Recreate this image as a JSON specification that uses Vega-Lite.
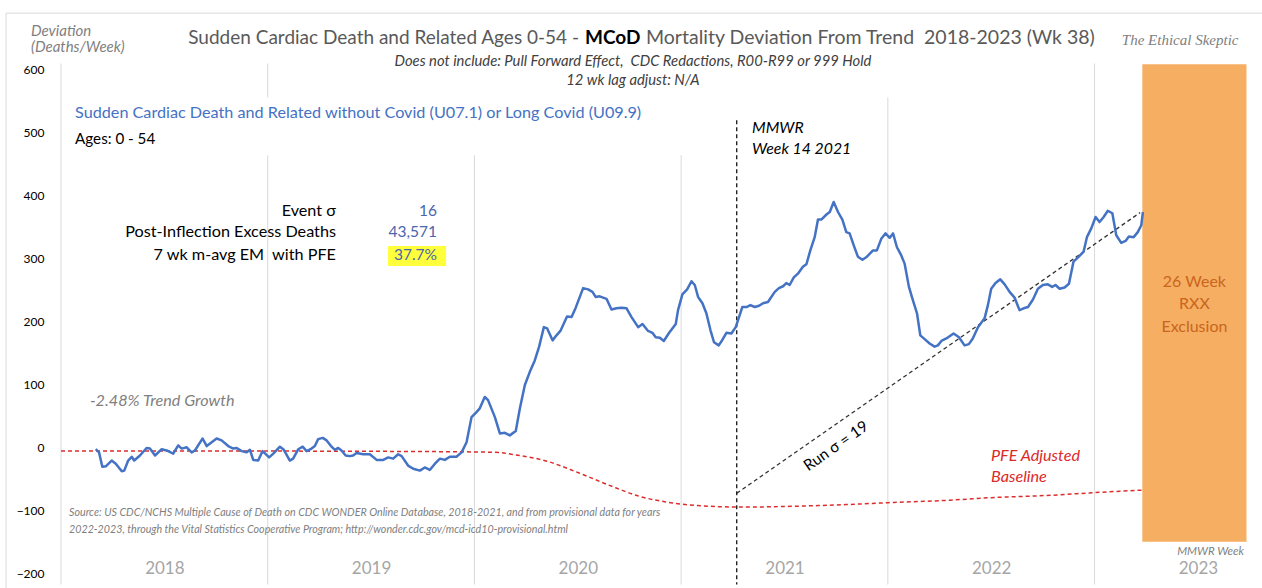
{
  "$schema": "https://vega.github.io/schema/vega-lite/v6.json",
  "width": 1201,
  "height": 521,
  "autosize": "none",
  "padding": {"left": 61, "top": 63.5, "right": 0, "bottom": 4},
  "background": "#ffffff",
  "config": {"view": {"stroke": null}, "font": "Lato"},
  "datasets": {
    "blue": [
      {"x":2018.168,"y":-3},{"x":2018.184,"y":-8},{"x":2018.200,"y":-31},{"x":2018.218,"y":-30},{"x":2018.245,"y":-21},{"x":2018.265,"y":-26},{"x":2018.294,"y":-38},{"x":2018.306,"y":-37},{"x":2018.325,"y":-21},{"x":2018.342,"y":-15},{"x":2018.354,"y":-21},{"x":2018.382,"y":-13},{"x":2018.414,"y":-1},{"x":2018.430,"y":-2},{"x":2018.455,"y":-13},{"x":2018.487,"y":-3},{"x":2018.511,"y":-5},{"x":2018.543,"y":-10},{"x":2018.567,"y":3},{"x":2018.584,"y":-2},{"x":2018.608,"y":0},{"x":2018.632,"y":-8},{"x":2018.648,"y":-5},{"x":2018.669,"y":6},{"x":2018.685,"y":14},{"x":2018.705,"y":2},{"x":2018.729,"y":8},{"x":2018.753,"y":14},{"x":2018.777,"y":11},{"x":2018.809,"y":2},{"x":2018.833,"y":-2},{"x":2018.850,"y":-1},{"x":2018.874,"y":-6},{"x":2018.898,"y":-8},{"x":2018.914,"y":-4},{"x":2018.930,"y":-20},{"x":2018.954,"y":-21},{"x":2018.975,"y":-6},
      {"x":2019.007,"y":-16},{"x":2019.027,"y":-10},{"x":2019.059,"y":1},{"x":2019.078,"y":-4},{"x":2019.107,"y":-21},{"x":2019.123,"y":-18},{"x":2019.148,"y":-3},{"x":2019.169,"y":1},{"x":2019.188,"y":-6},{"x":2019.212,"y":-2},{"x":2019.228,"y":2},{"x":2019.244,"y":13},{"x":2019.266,"y":15},{"x":2019.285,"y":11},{"x":2019.309,"y":1},{"x":2019.325,"y":-4},{"x":2019.341,"y":-1},{"x":2019.357,"y":-5},{"x":2019.377,"y":-13},{"x":2019.397,"y":-14},{"x":2019.413,"y":-13},{"x":2019.430,"y":-9},{"x":2019.462,"y":-11},{"x":2019.494,"y":-11},{"x":2019.527,"y":-20},{"x":2019.559,"y":-20},{"x":2019.583,"y":-16},{"x":2019.607,"y":-18},{"x":2019.631,"y":-11},{"x":2019.648,"y":-14},{"x":2019.679,"y":-29},{"x":2019.704,"y":-34},{"x":2019.736,"y":-37},{"x":2019.760,"y":-32},{"x":2019.784,"y":-36},{"x":2019.809,"y":-26},{"x":2019.833,"y":-18},{"x":2019.857,"y":-20},{"x":2019.881,"y":-15},{"x":2019.913,"y":-15},{"x":2019.938,"y":-8},{"x":2019.962,"y":8},{"x":2019.986,"y":48},
      {"x":2020.010,"y":56},{"x":2020.026,"y":62},{"x":2020.050,"y":80},{"x":2020.066,"y":75},{"x":2020.099,"y":48},{"x":2020.123,"y":22},{"x":2020.147,"y":23},{"x":2020.171,"y":19},{"x":2020.200,"y":26},{"x":2020.220,"y":62},{"x":2020.244,"y":99},{"x":2020.268,"y":120},{"x":2020.292,"y":138},{"x":2020.313,"y":160},{"x":2020.336,"y":191},{"x":2020.352,"y":189},{"x":2020.378,"y":170},{"x":2020.397,"y":178},{"x":2020.416,"y":185},{"x":2020.448,"y":208},{"x":2020.470,"y":207},{"x":2020.490,"y":222},{"x":2020.526,"y":253},{"x":2020.550,"y":251},{"x":2020.571,"y":247},{"x":2020.587,"y":239},{"x":2020.606,"y":240},{"x":2020.639,"y":236},{"x":2020.663,"y":219},{"x":2020.687,"y":221},{"x":2020.711,"y":222},{"x":2020.736,"y":221},{"x":2020.760,"y":207},{"x":2020.792,"y":191},{"x":2020.813,"y":196},{"x":2020.840,"y":185},{"x":2020.861,"y":182},{"x":2020.877,"y":175},{"x":2020.897,"y":174},{"x":2020.916,"y":169},{"x":2020.942,"y":182},{"x":2020.974,"y":196},{"x":2020.985,"y":218},
      {"x":2021.006,"y":243},{"x":2021.029,"y":251},{"x":2021.050,"y":264},{"x":2021.066,"y":258},{"x":2021.082,"y":239},{"x":2021.103,"y":229},{"x":2021.122,"y":213},{"x":2021.142,"y":186},{"x":2021.159,"y":167},{"x":2021.182,"y":162},{"x":2021.200,"y":171},{"x":2021.219,"y":182},{"x":2021.243,"y":181},{"x":2021.264,"y":191},{"x":2021.280,"y":207},{"x":2021.296,"y":223},{"x":2021.316,"y":223},{"x":2021.335,"y":226},{"x":2021.356,"y":223},{"x":2021.377,"y":225},{"x":2021.396,"y":229},{"x":2021.420,"y":231},{"x":2021.453,"y":247},{"x":2021.473,"y":253},{"x":2021.493,"y":256},{"x":2021.509,"y":261},{"x":2021.525,"y":258},{"x":2021.545,"y":270},{"x":2021.565,"y":276},{"x":2021.589,"y":287},{"x":2021.606,"y":291},{"x":2021.625,"y":313},{"x":2021.646,"y":334},{"x":2021.662,"y":362},{"x":2021.678,"y":362},{"x":2021.703,"y":370},{"x":2021.719,"y":374},{"x":2021.738,"y":390},{"x":2021.759,"y":374},{"x":2021.780,"y":362},{"x":2021.799,"y":342},{"x":2021.815,"y":340},{"x":2021.835,"y":321},{"x":2021.855,"y":303},{"x":2021.877,"y":298},{"x":2021.899,"y":303},{"x":2021.928,"y":313},{"x":2021.947,"y":313},{"x":2021.969,"y":332},{"x":2021.989,"y":340},
      {"x":2022.009,"y":333},{"x":2022.025,"y":340},{"x":2022.044,"y":318},{"x":2022.065,"y":305},{"x":2022.081,"y":292},{"x":2022.102,"y":255},{"x":2022.121,"y":234},{"x":2022.141,"y":213},{"x":2022.157,"y":178},{"x":2022.178,"y":172},{"x":2022.202,"y":165},{"x":2022.226,"y":160},{"x":2022.242,"y":162},{"x":2022.259,"y":169},{"x":2022.283,"y":173},{"x":2022.318,"y":181},{"x":2022.344,"y":175},{"x":2022.371,"y":162},{"x":2022.392,"y":164},{"x":2022.411,"y":173},{"x":2022.436,"y":191},{"x":2022.468,"y":205},{"x":2022.484,"y":226},{"x":2022.500,"y":252},{"x":2022.521,"y":261},{"x":2022.544,"y":267},{"x":2022.565,"y":259},{"x":2022.589,"y":247},{"x":2022.613,"y":238},{"x":2022.637,"y":218},{"x":2022.657,"y":221},{"x":2022.678,"y":223},{"x":2022.702,"y":235},{"x":2022.726,"y":252},{"x":2022.750,"y":258},{"x":2022.774,"y":259},{"x":2022.795,"y":255},{"x":2022.811,"y":258},{"x":2022.831,"y":252},{"x":2022.855,"y":254},{"x":2022.876,"y":260},{"x":2022.898,"y":295},{"x":2022.924,"y":303},{"x":2022.947,"y":311},{"x":2022.963,"y":334},{"x":2022.984,"y":348},
      {"x":2023.005,"y":366},{"x":2023.024,"y":358},{"x":2023.044,"y":366},{"x":2023.064,"y":376},{"x":2023.086,"y":372},{"x":2023.105,"y":337},{"x":2023.129,"y":325},{"x":2023.150,"y":328},{"x":2023.166,"y":335},{"x":2023.189,"y":334},{"x":2023.209,"y":342},{"x":2023.226,"y":353},{"x":2023.234,"y":374}
    ],
    "base": [
      {"x":2018.0,"y":-6},{"x":2019.0,"y":-6},{"x":2019.9,"y":-7},{"x":2020.1,"y":-8},{"x":2020.2,"y":-12},{"x":2020.35,"y":-22},{"x":2020.5,"y":-40},{"x":2020.65,"y":-60},{"x":2020.8,"y":-78},{"x":2020.95,"y":-88},{"x":2021.1,"y":-93},{"x":2021.3,"y":-95},{"x":2021.5,"y":-94},{"x":2021.8,"y":-91},{"x":2022.0,"y":-88},{"x":2022.3,"y":-84},{"x":2022.5,"y":-80},{"x":2022.8,"y":-76},{"x":2023.0,"y":-72},{"x":2023.23,"y":-68}
    ]
  },
  "encoding": {
    "x": {"field": "x", "type": "quantitative", "title": null,
      "scale": {"domain": [2018, 2023.81], "nice": false, "zero": false},
      "axis": {"values": [2018.5, 2019.5, 2020.5, 2021.5, 2022.5, 2023.5], "labelExpr": "floor(datum.value)", "domain": false, "ticks": false, "grid": false, "labelFontSize": 17, "labelColor": "#A6A6A6", "labelFont": "Lato", "offset": -24, "labelPadding": 0, "labelOverlap": false, "labelFlush": false}},
    "y": {"field": "y", "type": "quantitative", "title": null,
      "scale": {"domain": [-218, 610], "nice": false, "zero": false},
      "axis": {"values": [-200, -100, 0, 100, 200, 300, 400, 500, 600], "domain": false, "ticks": false, "grid": false, "labelPadding": 17, "labelFontSize": 12, "labelColor": "#000000", "labelFont": "Lato"}}
  },
  "layer": [
    {"data": {"values": [{"x": 2017.734, "x2": 2023.9, "y": 690}]}, "mark": {"type": "rule", "color": "#D9D9D9", "strokeWidth": 1}, "encoding": {"x2": {"field": "x2"}}},
    {"data": {"values": [{"x": 2017.734, "y": 690, "y2": -230}]}, "mark": {"type": "rule", "color": "#D9D9D9", "strokeWidth": 1}, "encoding": {"y2": {"field": "y2"}}},
    {"data": {"values": [{"x": 2018, "y": -218, "y2": 610}, {"x": 2019, "y": -218, "y2": 610}, {"x": 2020, "y": -218, "y2": 610}, {"x": 2021, "y": -218, "y2": 610}, {"x": 2022, "y": -218, "y2": 610}, {"x": 2023, "y": -218, "y2": 610}]}, "mark": {"type": "rule", "color": "#D9D9D9", "strokeWidth": 1}, "encoding": {"y2": {"field": "y2"}}},
    {"data": {"values": [{"x": 2019.55, "x2": 2022.015, "y": 556, "y2": 640}, {"x": 2018.045, "x2": 2021.05, "y": 464, "y2": 556}]}, "mark": {"type": "rect", "color": "#ffffff"}, "encoding": {"x2": {"field": "x2"}, "y2": {"field": "y2"}}},
    {"data": {"values": [{"x": 2023.231, "x2": 2023.735, "y": 609, "y2": -150}]}, "mark": {"type": "rect", "color": "#F6AE63"}, "encoding": {"x2": {"field": "x2"}, "y2": {"field": "y2"}}},
    {"data": {"name": "base"}, "mark": {"type": "line", "color": "#DD2C2C", "strokeWidth": 1.5, "strokeDash": [4, 3], "interpolate": "monotone"}},
    {"data": {"values": [{"x": 2021.269, "y": -73}, {"x": 2023.22, "y": 373}]}, "mark": {"type": "line", "color": "#333333", "strokeWidth": 1.3, "strokeDash": [4, 3]}},
    {"data": {"values": [{"x": 2021.269, "y": 520, "y2": -218}]}, "mark": {"type": "rule", "color": "#000000", "strokeWidth": 1.2, "strokeDash": [4, 3]}, "encoding": {"y2": {"field": "y2"}}},
    {"data": {"name": "blue"}, "mark": {"type": "line", "color": "#4472C4", "strokeWidth": 2.5, "strokeJoin": "round"}},
    {"data": {"values": [{"x": 2019.582, "x2": 2019.863, "y": 320, "y2": 288}]}, "mark": {"type": "rect", "color": "#FFFF3C"}, "encoding": {"x2": {"field": "x2"}, "y2": {"field": "y2"}}},
    {"data": {"values": [{"x": 2020.506, "y": 650, "t": "Sudden Cardiac Death and Related Ages 0-54 -"}]}, "mark": {"type": "text", "align": "right", "baseline": "middle", "font": "Lato", "fontSize": 19, "color": "#595959"}, "encoding": {"text": {"field": "t"}}},
    {"data": {"values": [{"x": 2020.535, "y": 650, "t": "MCoD"}]}, "mark": {"type": "text", "align": "left", "baseline": "middle", "font": "Lato", "fontSize": 19, "fontWeight": "bold", "color": "#000000"}, "encoding": {"text": {"field": "t"}}},
    {"data": {"values": [{"x": 2020.830, "y": 650, "t": "Mortality Deviation From Trend \u00a02018-2023 (Wk 38)"}]}, "mark": {"type": "text", "align": "left", "baseline": "middle", "font": "Lato", "fontSize": 19.5, "color": "#595959"}, "encoding": {"text": {"field": "t"}}},
    {"data": {"values": [{"x": 2020.767, "y": 612, "t": "Does not include: Pull Forward Effect, \u00a0CDC Redactions, R00-R99 or 999 Hold"}, {"x": 2020.767, "y": 582, "t": "12 wk lag adjust: N/A"}]}, "mark": {"type": "text", "align": "center", "baseline": "middle", "font": "Lato", "fontSize": 14.8, "fontStyle": "italic", "color": "#404040"}, "encoding": {"text": {"field": "t"}}},
    {"data": {"values": [{"x": 2017.855, "y": 662, "t": "Deviation"}, {"x": 2017.855, "y": 636, "t": "(Deaths/Week)"}]}, "mark": {"type": "text", "align": "left", "baseline": "middle", "font": "Lato", "fontSize": 15, "fontStyle": "italic", "color": "#7F7F7F"}, "encoding": {"text": {"field": "t"}}},
    {"data": {"values": [{"x": 2023.414, "y": 647, "t": "The Ethical Skeptic"}]}, "mark": {"type": "text", "align": "center", "baseline": "middle", "font": "Liberation Serif", "fontSize": 15, "fontStyle": "italic", "color": "#808080"}, "encoding": {"text": {"field": "t"}}},
    {"data": {"values": [{"x": 2018.068, "y": 531, "t": "Sudden Cardiac Death and Related without Covid (U07.1) or Long Covid (U09.9)"}]}, "mark": {"type": "text", "align": "left", "baseline": "middle", "font": "Lato", "fontSize": 16.2, "color": "#4472C4"}, "encoding": {"text": {"field": "t"}}},
    {"data": {"values": [{"x": 2018.068, "y": 490, "t": "Ages: 0 - 54"}]}, "mark": {"type": "text", "align": "left", "baseline": "middle", "font": "Lato", "fontSize": 15.2, "color": "#000000"}, "encoding": {"text": {"field": "t"}}},
    {"data": {"values": [{"x": 2019.330, "y": 376, "t": "Event σ"}, {"x": 2019.330, "y": 342, "t": "Post-Inflection Excess Deaths"}, {"x": 2019.330, "y": 306, "t": "7 wk m-avg EM \u00a0with PFE"}]}, "mark": {"type": "text", "align": "right", "baseline": "middle", "font": "Lato", "fontSize": 16.2, "color": "#000000"}, "encoding": {"text": {"field": "t"}}},
    {"data": {"values": [{"x": 2019.819, "y": 376, "t": "16"}, {"x": 2019.819, "y": 342, "t": "43,571"}, {"x": 2019.819, "y": 306, "t": "37.7%"}]}, "mark": {"type": "text", "align": "right", "baseline": "middle", "font": "Lato", "fontSize": 15.5, "color": "#4A66AC"}, "encoding": {"text": {"field": "t"}}},
    {"data": {"values": [{"x": 2018.14, "y": 74, "t": "-2.48% Trend Growth"}]}, "mark": {"type": "text", "align": "left", "baseline": "middle", "font": "Lato", "fontSize": 16.2, "fontStyle": "italic", "color": "#7F7F7F"}, "encoding": {"text": {"field": "t"}}},
    {"data": {"values": [{"x": 2021.343, "y": 507, "t": "MMWR"}, {"x": 2021.343, "y": 474, "t": "Week 14 2021"}]}, "mark": {"type": "text", "align": "left", "baseline": "middle", "font": "Lato", "fontSize": 15.8, "fontStyle": "italic", "color": "#000000"}, "encoding": {"text": {"field": "t"}}},
    {"data": {"values": [{"x": 2021.749, "y": 2, "t": "Run σ = 19"}]}, "mark": {"type": "text", "align": "center", "baseline": "middle", "font": "Lato", "fontSize": 15.5, "angle": 325, "color": "#000000"}, "encoding": {"text": {"field": "t"}}},
    {"data": {"values": [{"x": 2022.499, "y": -14, "t": "PFE Adjusted"}, {"x": 2022.499, "y": -47, "t": "Baseline"}]}, "mark": {"type": "text", "align": "left", "baseline": "middle", "font": "Lato", "fontSize": 16.2, "fontStyle": "italic", "color": "#DC2A2A"}, "encoding": {"text": {"field": "t"}}},
    {"data": {"values": [{"x": 2023.483, "y": 262, "t": "26 Week"}, {"x": 2023.483, "y": 227, "t": "RXX"}, {"x": 2023.483, "y": 192, "t": "Exclusion"}]}, "mark": {"type": "text", "align": "center", "baseline": "middle", "font": "Lato", "fontSize": 16, "color": "#C9651C"}, "encoding": {"text": {"field": "t"}}},
    {"data": {"values": [{"x": 2023.723, "y": -166, "t": "MMWR Week"}]}, "mark": {"type": "text", "align": "right", "baseline": "middle", "font": "Lato", "fontSize": 11.5, "fontStyle": "italic", "color": "#7F7F7F"}, "encoding": {"text": {"field": "t"}}},
    {"data": {"values": [{"x": 2018.039, "y": -104, "t": "Source: US CDC/NCHS Multiple Cause of Death on CDC WONDER Online Database, 2018-2021, and from provisional data for years"}, {"x": 2018.039, "y": -131, "t": "2022-2023, through the Vital Statistics Cooperative Program; http://wonder.cdc.gov/mcd-icd10-provisional.html"}]}, "mark": {"type": "text", "align": "left", "baseline": "middle", "font": "Lato", "fontSize": 10.7, "fontStyle": "italic", "color": "#808080"}, "encoding": {"text": {"field": "t"}}}
  ]
}
